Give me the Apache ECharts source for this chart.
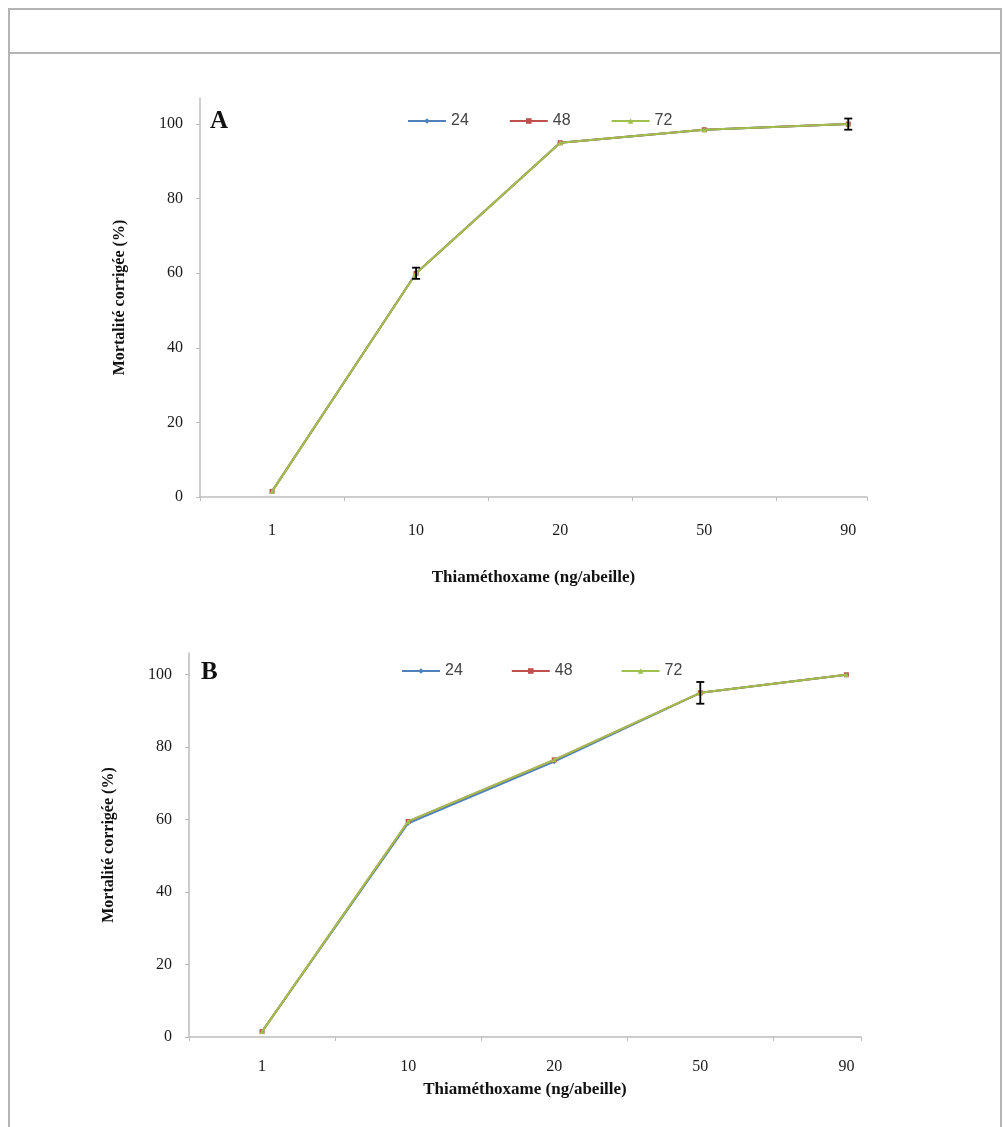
<!DOCTYPE html>
<html>
<head>
<meta charset="utf-8">
<script src="https://cdn.jsdelivr.net/npm/echarts@6/dist/echarts.min.js"></script>
<style>
  html, body { margin: 0; padding: 0; background: #fff; }
  #wrap { position: relative; width: 1005px; height: 1127px; overflow: hidden; }
  .frame { position: absolute; left: 8px; top: 8px; width: 994px; height: 1140px; border: 2px solid #b4b4b4; box-sizing: border-box; }
  .hline { position: absolute; left: 8px; top: 52px; width: 994px; height: 2px; background: #b4b4b4; }
  #chart { position: absolute; left: 0; top: 0; width: 1005px; height: 1127px; }
</style>
</head>
<body>
<div id="wrap">
  <div class="frame"></div>
  <div class="hline"></div>
  <div id="chart"></div>
</div>
<script>
// ---- data ----
const categories = ['1', '10', '20', '50', '90'];
const seriesNames = ['24', '48', '72'];
const yTicks = [0, 20, 40, 60, 80, 100];

// Panel A
const mortA24 = [1.5, 60, 95, 98.5, 100];
const mortA48 = [1.5, 60, 95, 98.5, 100];
const mortA72 = [1.5, 60, 95, 98.5, 100];
const errA72  = [0, 1.5, 0, 0, 1.5];

// Panel B
const mortB24 = [1.5, 59, 76, 95, 100];
const mortB48 = [1.5, 59.5, 76.5, 95, 100];
const mortB72 = [1.5, 59.5, 76.5, 95, 100];
const errB72  = [0, 0, 0, 3, 0];

// ---- styling ----
const colors = ['#4F81BD', '#C0504D', '#A0C04E'];
const symbols = ['diamond', 'rect', 'triangle'];
const serif = 'Liberation Serif';
const sans = 'Liberation Sans';
const axisGray = '#bdbdbd';

function pts(vals) { return categories.map((c, i) => [i, vals[i]]); }
function errPts(vals, errs) { return categories.map((c, i) => [i, vals[i], errs[i]]); }

function errRender(params, api) {
  const x = api.value(0), y = api.value(1), e = api.value(2);
  if (!e) return null;
  const top = api.coord([x, y + e]);
  const bot = api.coord([x, y - e]);
  const w = 4;
  const st = { stroke: '#000', lineWidth: 1.8 };
  return {
    type: 'group',
    children: [
      { type: 'line', shape: { x1: top[0], y1: top[1], x2: bot[0], y2: bot[1] }, style: st },
      { type: 'line', shape: { x1: top[0] - w, y1: top[1], x2: top[0] + w, y2: top[1] }, style: st },
      { type: 'line', shape: { x1: bot[0] - w, y1: bot[1], x2: bot[0] + w, y2: bot[1] }, style: st }
    ]
  };
}

function tickAxis(gridIndex, max) {
  return {
    type: 'value', gridIndex: gridIndex, position: 'bottom', min: -0.5, max: max, interval: 1,
    axisLine: { show: true, onZero: false, lineStyle: { color: axisGray, width: 1.5 } },
    axisTick: { show: true, length: 4, inside: false, lineStyle: { color: axisGray } },
    axisLabel: { show: false },
    splitLine: { show: false }
  };
}
function labelAxis(gridIndex, max, margin, nameGap) {
  return {
    type: 'value', gridIndex: gridIndex, position: 'bottom', min: -0.5, max: max, interval: 0.5,
    axisLine: { show: false, onZero: false }, axisTick: { show: false }, splitLine: { show: false },
    axisLabel: {
      show: true, margin: margin, showMaxLabel: false, showMinLabel: false,
      fontFamily: serif, fontSize: 16, color: '#1a1a1a',
      formatter: function (v) {
        const r = Math.round(v);
        return (Math.abs(v - r) < 1e-6 && categories[r] !== undefined) ? categories[r] : '';
      }
    },
    name: 'Thiaméthoxame (ng/abeille)', nameLocation: 'middle', nameGap: nameGap,
    nameTextStyle: { fontFamily: serif, fontWeight: 'bold', fontSize: 17, color: '#111' }
  };
}
function yAxis(gridIndex, max, nameGap) {
  return {
    type: 'value', gridIndex: gridIndex, position: 'left', min: 0, max: max, interval: 20,
    axisLine: { show: true, onZero: false, lineStyle: { color: axisGray, width: 1.5 } },
    axisTick: { show: true, length: 4, lineStyle: { color: axisGray } },
    splitLine: { show: false },
    axisLabel: {
      showMaxLabel: false, margin: 17, fontFamily: serif, fontSize: 16, color: '#1a1a1a',
      formatter: function (v) { return yTicks.indexOf(v) >= 0 ? String(v) : ''; }
    },
    name: 'Mortalité corrigée (%)', nameLocation: 'middle', nameRotate: 90, nameGap: nameGap,
    nameTextStyle: { fontFamily: serif, fontWeight: 'bold', fontSize: 16, color: '#111' }
  };
}

function lineSeries(name, idx, vals, xAxisIndex, yAxisIndex) {
  return {
    type: 'line', name: name, xAxisIndex: xAxisIndex, yAxisIndex: yAxisIndex,
    data: pts(vals), color: colors[idx],
    symbol: symbols[idx], symbolSize: 5, showSymbol: true,
    lineStyle: { width: 2, color: colors[idx] },
    itemStyle: { color: colors[idx] },
    z: 2 + idx
  };
}

const legendText = { fontFamily: sans, fontSize: 16, color: '#444' };

const option = {
  animation: false,
  backgroundColor: 'transparent',
  title: [
    { text: 'A', left: 205, top: 104, textStyle: { fontFamily: serif, fontWeight: 'bold', fontSize: 25, color: '#111' } },
    { text: 'B', left: 196, top: 655, textStyle: { fontFamily: serif, fontWeight: 'bold', fontSize: 25, color: '#111' } }
  ],
  legend: [
    { data: seriesNames, left: 402, top: 108, itemWidth: 38, itemHeight: 7, itemGap: 40, textStyle: legendText },
    { data: seriesNames, left: 396, top: 658, itemWidth: 38, itemHeight: 7, itemGap: 48, textStyle: legendText }
  ],
  grid: [
    { left: 200, top: 98, width: 667, height: 399 },
    { left: 189, top: 653, width: 672, height: 384 }
  ],
  xAxis: [
    tickAxis(0, 4.13),
    labelAxis(0, 4.13, 26, 72),
    tickAxis(1, 4.1),
    labelAxis(1, 4.1, 22, 44)
  ],
  yAxis: [
    yAxis(0, 107, 72),
    yAxis(1, 106, 72)
  ],
  series: [
    lineSeries('24', 0, mortA24, 0, 0),
    lineSeries('48', 1, mortA48, 0, 0),
    lineSeries('72', 2, mortA72, 0, 0),
    { type: 'custom', name: 'errA', xAxisIndex: 0, yAxisIndex: 0, renderItem: errRender, data: errPts(mortA72, errA72), z: 10 },
    lineSeries('24', 0, mortB24, 2, 1),
    lineSeries('48', 1, mortB48, 2, 1),
    lineSeries('72', 2, mortB72, 2, 1),
    { type: 'custom', name: 'errB', xAxisIndex: 2, yAxisIndex: 1, renderItem: errRender, data: errPts(mortB72, errB72), z: 10 }
  ]
};

const chart = echarts.init(document.getElementById('chart'), null, { renderer: 'canvas' });
chart.setOption(option);
</script>
</body>
</html>
